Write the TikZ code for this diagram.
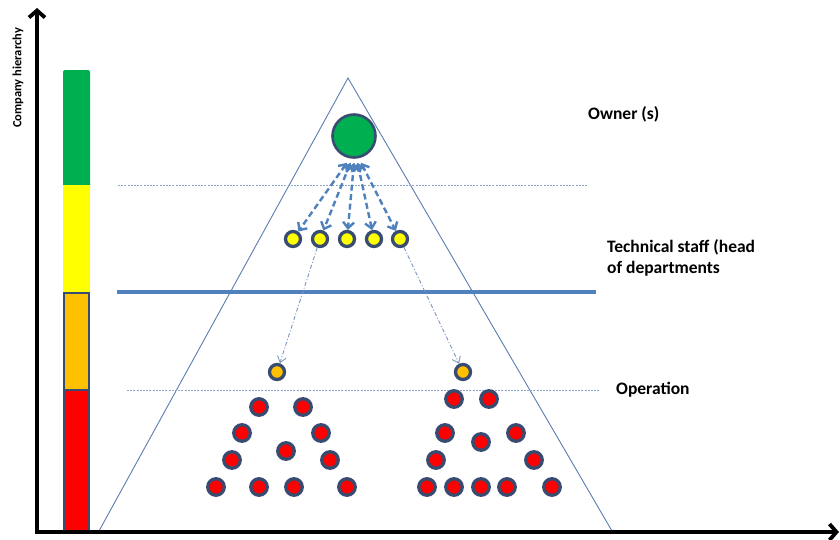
\documentclass[tikz,border=0pt]{standalone}
\usepackage{fontspec}
\setmainfont{Carlito}
\usetikzlibrary{arrows.meta}

\definecolor{ownergreen}{HTML}{00B050}
\definecolor{staffyellow}{HTML}{FFFF00}
\definecolor{opsorange}{HTML}{FFC000}
\definecolor{workred}{HTML}{FF0000}
\definecolor{rimblue}{HTML}{384B70}
\definecolor{linkblue}{HTML}{4F81BD}
\definecolor{guideblue}{HTML}{8AA6CF}
\definecolor{pyramidline}{HTML}{5A7DB0}

\begin{document}
\begin{tikzpicture}[x=1pt,y=-1pt,
  axis/.style={line width=3.8pt, black, -{Straight Barb[length=7pt,width=16pt]}},
  lbl/.style={font=\fontsize{17.5}{21}\selectfont\bfseries, anchor=base west, inner sep=0pt},
  member/.style={circle, draw=rimblue, inner sep=0pt, line width=3.3pt, minimum size=#1},
  boss/.style={member=43pt, fill=ownergreen, line width=2.6pt},
  head/.style={member=15pt, fill=staffyellow},
  lead/.style={member=15pt, fill=opsorange},
  worker/.style={member=16.5pt, fill=workred},
  guide/.style={guideblue, line width=0.9pt, dash pattern=on 2pt off 1.2pt},
  delegate/.style={linkblue, line width=2.4pt, dash pattern=on 6pt off 3.5pt,
    {Straight Barb[length=6pt,width=11pt]}-{Straight Barb[length=6pt,width=11pt]}},
  handoff/.style={pyramidline!80, line width=0.9pt, dash pattern=on 4pt off 2pt on 1pt off 2pt,
    -{Straight Barb[length=6pt,width=9pt]}}
]
\useasboundingbox (0,0) rectangle (840,539);

% level bar on the left
\fill[ownergreen, rounded corners=2pt] (63,70) rectangle (90,190);
\fill[ownergreen] (63,180) rectangle (90,185);
\fill[staffyellow] (63,185) rectangle (90,292);
\draw[rimblue, line width=2.4pt, fill=opsorange] (64,293) rectangle (89,390);
\draw[rimblue, line width=2.4pt, fill=workred] (64,390) rectangle (89,531);

% pyramid outline
\draw[pyramidline, line width=0.9pt] (348,78) -- (99,531) -- (612,531) -- cycle;

% level separators
\draw[guide] (118,185) -- (587,185);
\draw[linkblue, line width=3.2pt] (117,292) -- (596,292);
\draw[guide] (127,390) -- (600,390);

% axes
\coordinate (O) at (37,532);
\coordinate (ytip) at (37,8);
\coordinate (xtip) at (839,532);
\draw[axis] ([yshift=1.9pt]O) -- (ytip);
\draw[axis] ([xshift=-1.9pt]O) -- (xtip);
\node[rotate=90, font=\fontsize{12.5}{14}\selectfont\bfseries, inner sep=0pt] (axislbl) at (18,78) {Company hierarchy};

% owner
\node[boss] (own) at (354,136) {};

% heads of departments
\foreach \i/\x in {1/293,2/320,3/347,4/374,5/400}
  \node[head] (h\i) at (\x,239) {};
\foreach \i/\dx in {1/-7,2/-3.5,3/0,4/3.5,5/7}
  \draw[delegate] ([xshift=\dx pt, yshift=-4pt]own.south) -- (h\i);

% operation leads
\node[lead] (l1) at (277,372) {};
\node[lead] (l2) at (463,372) {};
\draw[handoff] (h2) -- (l1);
\draw[handoff] (h5) -- (l2);

% operational staff, left group
\foreach \n/\x/\y in {a1/259/407, a2/303/407, a3/242/433, a4/321/433, a5/286/451,
  a6/232/460, a7/330/460, a8/216/487, a9/259/487, a10/294/487, a11/347/487}
  \node[worker] (\n) at (\x,\y) {};

% operational staff, right group
\foreach \n/\x/\y in {b1/454/399, b2/489/399, b3/445/433, b4/516/433, b5/481/442,
  b6/436/460, b7/534/460, b8/427/487, b9/454/487, b10/481/487, b11/507/487, b12/552/487}
  \node[worker] (\n) at (\x,\y) {};

% level captions
\node[lbl] (t1) at (588,119) {Owner (s)};
\node[lbl] (t2a) at (607,252) {Technical staff (head};
\node[lbl] (t2b) at (607,273) {of departments};
\node[lbl] (t3) at (616,394) {Operation};
\end{tikzpicture}
\end{document}
